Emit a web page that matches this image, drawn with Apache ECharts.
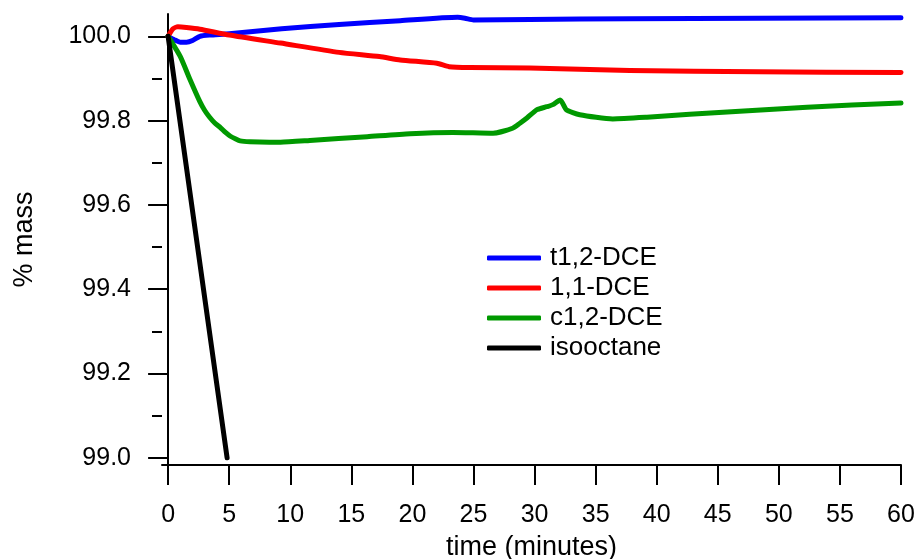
<!DOCTYPE html>
<html>
<head>
<meta charset="utf-8">
<script src="https://cdn.jsdelivr.net/npm/echarts@6/dist/echarts.min.js"></script>
<style>
html,body{margin:0;padding:0;background:#fff;}
#chart{width:917px;height:559px;}
</style>
</head>
<body>
<div id="chart"></div>
<script>
// ---- data ----
const seriesNames = ['t1,2-DCE', '1,1-DCE', 'c1,2-DCE', 'isooctane'];
const seriesColors = ['#0000ff', '#ff0000', '#009900', '#000000'];

const xTickValues = [0, 5, 10, 15, 20, 25, 30, 35, 40, 45, 50, 55, 60];
const yTickValues = [99.0, 99.2, 99.4, 99.6, 99.8, 100.0];
const yMinorTickValues = [99.1, 99.3, 99.5, 99.7, 99.9];

const t12DCE = [
  [0, 100.0], [0.5, 99.992], [1.0, 99.986], [1.5, 99.986], [2.0, 99.990],
  [2.6, 100.000], [3.4, 100.003], [5, 100.006], [9.3, 100.018], [14, 100.028],
  [19, 100.037], [23.7, 100.045], [24.3, 100.043], [25, 100.039], [29.6, 100.040],
  [37.8, 100.042], [48.3, 100.043], [60, 100.044]
];
const c11DCE = [
  [0, 100.0], [0.4, 100.018], [0.8, 100.0225], [1.5, 100.021], [2.6, 100.017],
  [5, 100.003], [9.2, 99.984], [14, 99.962], [17.3, 99.952], [19, 99.944],
  [22, 99.936], [23, 99.928], [24.7, 99.926], [29.6, 99.925], [37.8, 99.919],
  [48.3, 99.916], [60, 99.914]
];
const c12DCE = [
  [0, 100.0], [1, 99.952], [1.8, 99.897], [2.6, 99.845], [3.0, 99.824],
  [3.4, 99.808], [3.8, 99.795], [4.3, 99.783], [4.7, 99.772], [5.1, 99.763],
  [5.5, 99.757], [5.9, 99.752], [6.7, 99.750], [8.3, 99.749],
  [9.2, 99.749], [11.6, 99.753], [16.3, 99.762], [19.8, 99.769], [23.3, 99.772],
  [26.6, 99.770], [28.2, 99.782], [28.8, 99.794], [29.4, 99.807], [30.2, 99.826],
  [31, 99.833], [31.5, 99.838], [32.1, 99.849], [32.6, 99.826], [33.7, 99.814],
  [36.4, 99.804], [39.2, 99.808], [42.7, 99.815], [46.8, 99.822], [52.3, 99.832],
  [60, 99.842]
];
const isooctane = [
  [0, 100.0], [4.83, 99.0]
];
const seriesData = [t12DCE, c11DCE, c12DCE, isooctane];

// ---- chart ----
const font = 'Liberation Sans, Arial, sans-serif';
const chart = echarts.init(document.getElementById('chart'), null, {renderer: 'canvas'});

const option = {
  animation: false,
  backgroundColor: '#ffffff',
  grid: {left: 162, right: 16, top: 14, bottom: 94, containLabel: false, outerBoundsMode: 'none'},
  legend: {
    orient: 'vertical',
    left: 487,
    top: 245,
    padding: 0,
    itemWidth: 54,
    itemHeight: 5,
    itemGap: 4,
    icon: 'roundRect',
    textStyle: {fontSize: 26, color: '#000', fontFamily: font, padding: [0, 0, 0, 4]},
    data: seriesNames
  },
  xAxis: {
    type: 'value',
    min: -0.5,
    max: 60,
    name: 'time (minutes)',
    nameLocation: 'middle',
    nameGap: 69,
    nameTextStyle: {fontSize: 27, color: '#000', fontFamily: font},
    axisLine: {show: true, lineStyle: {color: '#000', width: 2}},
    axisTick: {show: true, customValues: xTickValues, length: 20, lineStyle: {color: '#000', width: 2}},
    axisLabel: {customValues: xTickValues, fontSize: 25, color: '#000', fontFamily: font, margin: 38},
    splitLine: {show: false}
  },
  yAxis: [{
    type: 'value',
    min: 98.983,
    max: 100.053,
    name: '% mass',
    nameLocation: 'middle',
    nameGap: 124,
    nameTextStyle: {fontSize: 27, color: '#000', fontFamily: font},
    axisLine: {show: true, lineStyle: {color: '#000', width: 2}},
    axisTick: {show: true, customValues: yTickValues, length: 20, lineStyle: {color: '#000', width: 2}},
    axisLabel: {customValues: yTickValues, fontSize: 25, color: '#000', fontFamily: font, margin: 31,
      formatter: v => v.toFixed(1)},
    splitLine: {show: false}
  }, {
    type: 'value',
    min: 98.983,
    max: 100.053,
    position: 'left',
    axisLine: {show: false},
    axisTick: {show: true, customValues: yMinorTickValues, length: 10, lineStyle: {color: '#000', width: 2}},
    axisLabel: {show: false},
    splitLine: {show: false}
  }],
  series: seriesNames.map((name, i) => ({
    name: name,
    type: 'line',
    yAxisIndex: 0,
    data: seriesData[i],
    showSymbol: false,
    symbol: 'none',
    smooth: i === 3 ? false : 0.2,
    color: seriesColors[i],
    lineStyle: {color: seriesColors[i], width: 5, cap: 'round', join: 'round'}
  }))
};
chart.setOption(option);
</script>
</body>
</html>
